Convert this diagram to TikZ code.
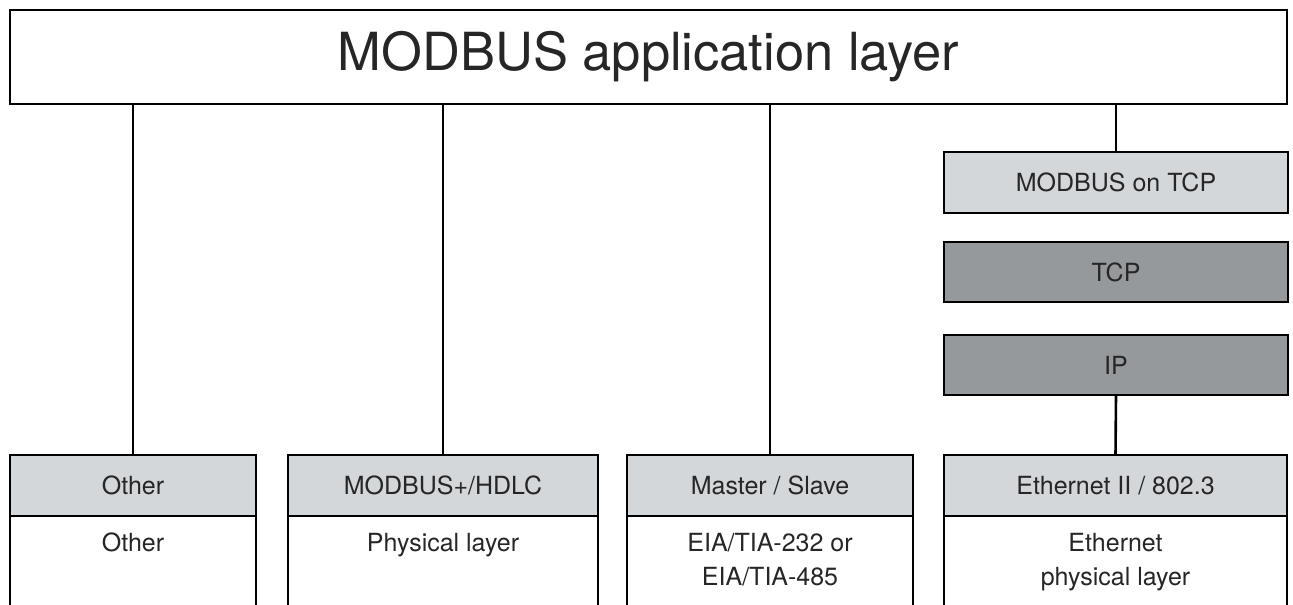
\documentclass[tikz,border=0pt]{standalone}
\usepackage{fontspec}
\setmainfont{TeX Gyre Heros}
\definecolor{lightg}{RGB}{212,215,218}
\definecolor{darkg}{RGB}{150,153,156}
\begin{document}
\begin{tikzpicture}[x=1pt,y=-1pt,
  lbox/.style={draw=black, line width=2.8pt, inner sep=0pt, outer sep=0pt, anchor=north west,
    font=\fontsize{25}{30}\selectfont, text=black!85},
  hdr/.style={lbox, fill=lightg, minimum height=61pt},
  dark/.style={lbox, fill=darkg, minimum height=60pt, minimum width=344pt},
  body/.style={inner sep=0pt, anchor=base, align=center, font=\fontsize{25}{34}\selectfont, text=black!85},
  conn/.style={draw=black, line width=2.6pt},
  side/.style={draw=black, line width=2.8pt}]
\useasboundingbox (0,0) rectangle (1293,605);
% top layer
\node[lbox, minimum width=1277pt, minimum height=94pt, font=\fontsize{52.5}{60}\selectfont] (app) at (10,10) {MODBUS application layer};
% TCP stack
\node[hdr, minimum width=344pt] (mtcp) at (944,152) {MODBUS on TCP};
\node[dark] (tcp) at (944,242) {TCP};
\node[dark] (ip) at (944,335) {IP};
% bottom headers
\node[hdr, minimum width=246pt] (other) at (10,455) {Other};
\node[hdr, minimum width=310pt] (hdlc) at (288,455) {MODBUS+/HDLC};
\node[hdr, minimum width=286pt] (ms) at (627,455) {Master / Slave};
\node[hdr, minimum width=343pt] (eth) at (944,455) {Ethernet II / 802.3};
% open body boxes
\foreach \n in {other,hdlc,ms,eth}{
  \draw[side] (\n.south west) -- (\n.south west |- 0,606);
  \draw[side] (\n.south east) -- (\n.south east |- 0,606);
}
% body texts (base anchor = baseline of the last line)
\node[body] (otherb) at (other.south |- 0,551) {Other};
\node[body] (hdlcb) at (hdlc.south |- 0,551) {Physical layer};
\node[body] (msb) at (ms.south |- 0,585) {EIA/TIA-232 or\\EIA/TIA-485};
\node[body] (ethb) at (eth.south |- 0,585) {Ethernet\\physical layer};
% connectors
\draw[conn] (app.south -| other.north) -- (other.north);
\draw[conn] (app.south -| hdlc.north) -- (hdlc.north);
\draw[conn] (app.south -| ms.north) -- (ms.north);
\draw[conn] (app.south -| mtcp.north) -- (mtcp.north);
\draw[conn] (ip.south) -- (eth.north);
\end{tikzpicture}
\end{document}
